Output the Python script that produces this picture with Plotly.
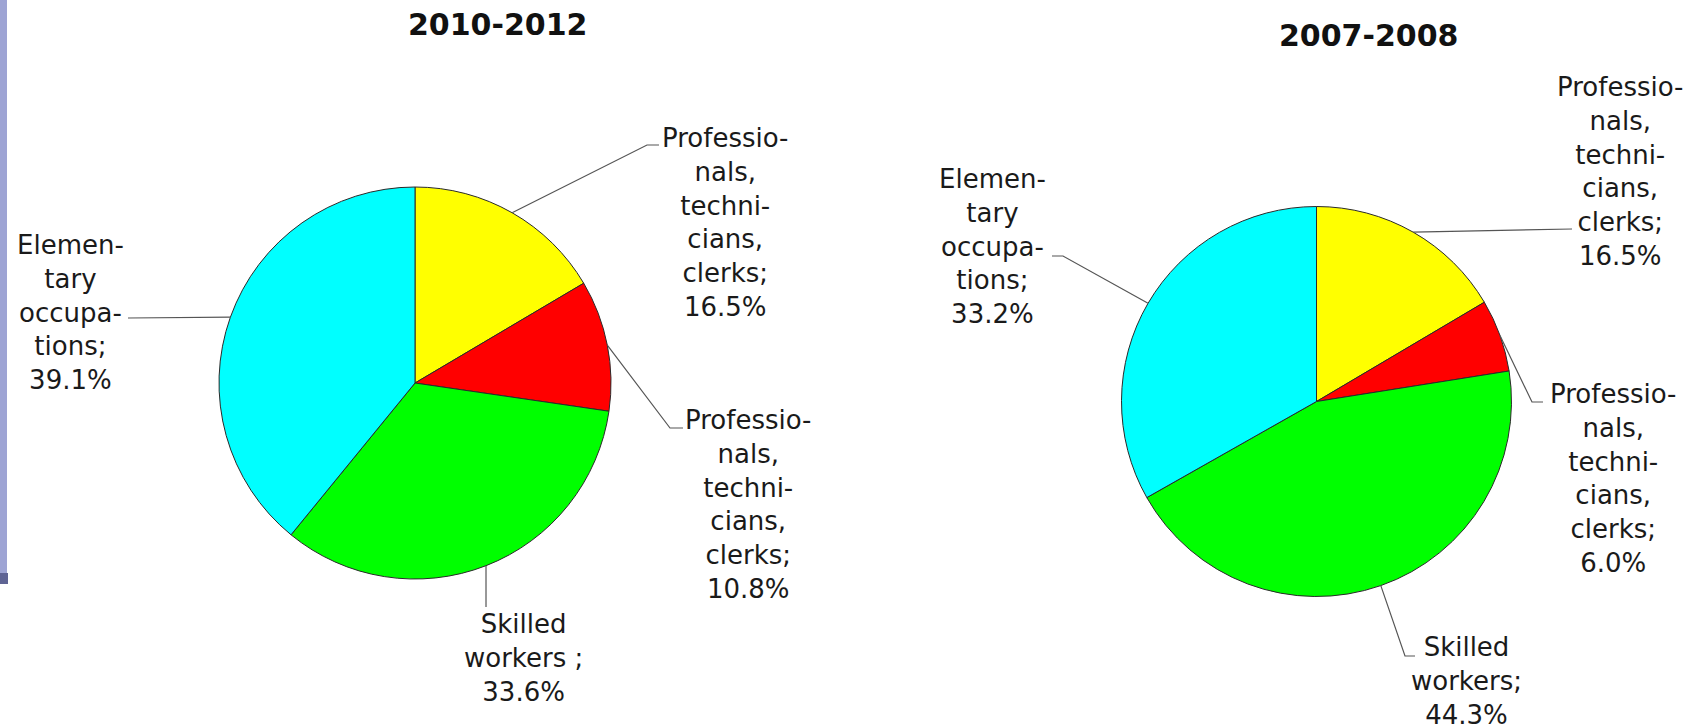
import math
import plotly.graph_objects as go

W, H = 1696, 724

# ---------------- data ----------------
categories = ["Professionals, technicians, clerks (a)",
              "Professionals, technicians, clerks (b)",
              "Skilled workers",
              "Elementary occupations"]
label_names_left = ["Professio-<br>nals,<br>techni-<br>cians,<br>clerks;",
                    "Professio-<br>nals,<br>techni-<br>cians,<br>clerks;",
                    "Skilled<br>workers ;",
                    "Elemen-<br>tary<br>occupa-<br>tions;"]
label_names_right = ["Professio-<br>nals,<br>techni-<br>cians,<br>clerks;",
                     "Professio-<br>nals,<br>techni-<br>cians,<br>clerks;",
                     "Skilled<br>workers;",
                     "Elemen-<br>tary<br>occupa-<br>tions;"]
values_2010_2012 = [16.5, 10.8, 33.6, 39.1]
values_2007_2008 = [16.5, 6.0, 44.3, 33.2]
titles = ["2010-2012", "2007-2008"]
colors = ["#FFFF00", "#FF0000", "#00FF00", "#00FFFF"]

# ---------------- layout (pixels) ----------------
FONT = "DejaVu Sans"
FS = 26
pies = [
    dict(values=values_2010_2012, names=label_names_left, cx=415, cy=383, r=196,
         title_xy=(497, 24),
         # label centre x, first baseline y, leader-line bend points after the slice edge
         labels=[(725, 146, [(647, 145), (659, 145)]),
                 (748, 428, [(670, 428), (683, 428)]),
                 (523, 632, [(486, 607)]),
                 (70, 253, [(128, 318)])]),
    dict(values=values_2007_2008, names=label_names_right, cx=1316.5, cy=401.5, r=195,
         title_xy=(1368, 35),
         labels=[(1620, 95, [(1572, 229)]),
                 (1613, 402, [(1532, 402), (1543, 402)]),
                 (1466, 655, [(1405, 656), (1415, 656)]),
                 (992, 187, [(1063, 256), (1052, 256)])]),
]


def px(x):
    return x / W


def py(y):
    return 1 - y / H


fig = go.Figure()
annotations = []
shapes = []

for p in pies:
    cx, cy, r = p["cx"], p["cy"], p["r"]
    fig.add_trace(go.Pie(
        labels=categories, values=p["values"], sort=False, direction="clockwise",
        rotation=0, marker=dict(colors=colors, line=dict(color="#2a2a2a", width=1)),
        textinfo="none", hoverinfo="label+percent", showlegend=False,
        domain=dict(x=[px(cx - r), px(cx + r)], y=[py(cy + r), py(cy - r)]),
    ))
    total = sum(p["values"])
    cum = 0.0
    for v, name, (lx, lb, bends) in zip(p["values"], p["names"], p["labels"]):
        mid = (cum + v / 2) / total * 2 * math.pi
        cum += v
        ex, ey = cx + r * math.sin(mid), cy - r * math.cos(mid)
        pts = [(ex, ey)] + bends
        path = "M " + " L ".join(f"{px(a):.5f},{py(b):.5f}" for a, b in pts)
        shapes.append(dict(type="path", path=path, xref="paper", yref="paper",
                           line=dict(color="#555555", width=1.2)))
        text = f"{name}<br>{v:.1f}%"
        top = lb - 0.96 * FS
        annotations.append(dict(text=text, x=px(lx), y=py(top), xref="paper", yref="paper",
                                xanchor="center", yanchor="top", showarrow=False, align="center",
                                font=dict(family=FONT, size=FS, color="#1a1a1a")))

for p, t in zip(pies, titles):
    tx, ty = p["title_xy"]
    annotations.append(dict(text=f"<b>{t}</b>", x=px(tx), y=py(ty), xref="paper", yref="paper",
                            xanchor="center", yanchor="middle", showarrow=False,
                            font=dict(family=FONT, size=30, color="#111111")))

# slide accent bar on the left edge
shapes.append(dict(type="rect", xref="paper", yref="paper", x0=0, x1=px(7), y0=py(573), y1=1,
                   fillcolor="#9ea4d4", line=dict(width=0), layer="below"))
shapes.append(dict(type="rect", xref="paper", yref="paper", x0=0, x1=px(8), y0=py(584), y1=py(573),
                   fillcolor="#5f6494", line=dict(width=0), layer="below"))

fig.update_layout(width=W, height=H, margin=dict(l=0, r=0, t=0, b=0),
                  paper_bgcolor="white", plot_bgcolor="white",
                  annotations=annotations, shapes=shapes)

fig.write_html("out.html", config={"displayModeBar": False},
               post_script="document.body.style.margin='0';document.body.style.overflow='hidden';")
